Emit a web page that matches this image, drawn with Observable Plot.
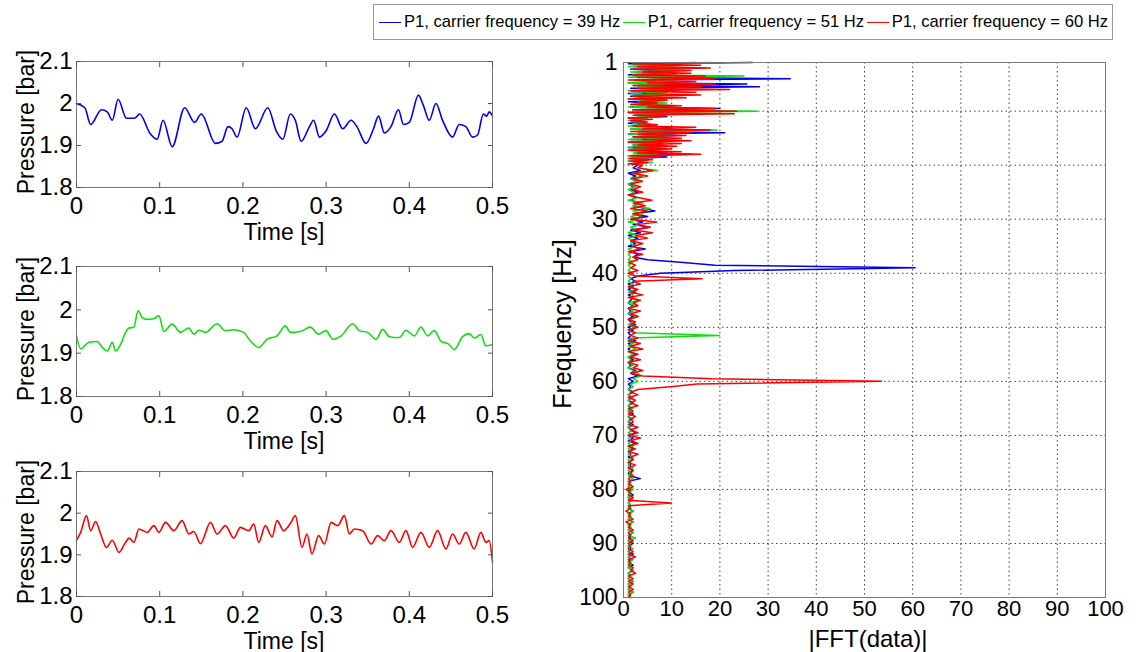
<!DOCTYPE html>
<html>
<head>
<meta charset="utf-8">
<script src="https://cdn.jsdelivr.net/npm/d3@7"></script>
<script src="https://cdn.jsdelivr.net/npm/@observablehq/plot@0.6"></script>
<style>
  html, body { margin: 0; padding: 0; background: #fff; }
  #root { position: relative; width: 1140px; height: 652px; overflow: hidden; font-family: "Liberation Sans", Arial, sans-serif; color: #000; }
  .abs { position: absolute; }
  .lbl { position: absolute; white-space: nowrap; line-height: 1; font-size: 23px; transform: translate(-50%, -50%); }
  .lbl.rot { transform: translate(-50%, -50%) rotate(-90deg); }
  .lbl.big { font-size: 25px; }
  .lbl.mid { font-size: 24px; }
  #legend { position: absolute; left: 373px; top: 4px; width: 740px; height: 36px; border: 1px solid #999; background: #fff;
            display: flex; align-items: center; justify-content: space-between; padding: 0 4px 0 5px; box-sizing: border-box; font-size: 16.6px; }
  .item { display: flex; align-items: center; white-space: nowrap; }
  .swatch { display: inline-block; width: 22px; height: 0; margin-right: 3px; }
</style>
</head>
<body>
<div id="root"></div>
<script>
// ---------------- data ----------------
const seriesNames = ["P1, carrier frequency = 39 Hz", "P1, carrier frequency = 51 Hz", "P1, carrier frequency = 60 Hz"];
const seriesColors = ["#0000ee", "#11dd11", "#ff0000"];

// time-domain traces (time [s], pressure [bar])
const time39 = [0, .01, .017, .03, .037, .043, .05, .06, .07, .076, .088, .097, .104, .115, .13, .142, .15, .167, .175, .182, .187, .193, .204, .215, .23, .24, .248, .257, .263, .27, .28, .285, .292, .3, .31, .32, .33, .337, .348, .357, .363, .37, .378, .387, .393, .4, .411, .417, .424, .432, .44, .452, .46, .468, .476, .482, .489, .493, .496, .5];
const pres39 = [2.0, 1.99, 1.95, 1.985, 1.98, 1.96, 2.01, 1.965, 1.965, 1.975, 1.93, 1.915, 1.96, 1.897, 1.99, 1.955, 1.975, 1.905, 1.91, 1.945, 1.94, 1.92, 1.99, 1.94, 1.99, 1.935, 1.915, 1.975, 1.96, 1.91, 1.945, 1.96, 1.92, 1.935, 1.975, 1.94, 1.96, 1.945, 1.905, 1.94, 1.97, 1.93, 1.945, 1.985, 1.95, 1.955, 2.02, 1.995, 1.96, 2.0, 1.96, 1.92, 1.95, 1.945, 1.92, 1.925, 1.975, 1.97, 1.98, 1.97];

const time51 = [0, .005, .015, .025, .031, .037, .043, .047, .053, .059, .063, .069, .074, .079, .085, .093, .099, .105, .115, .125, .135, .141, .147, .155, .169, .179, .189, .201, .209, .219, .229, .241, .251, .257, .269, .281, .291, .300, .308, .318, .332, .340, .350, .360, .368, .376, .388, .396, .406, .414, .422, .430, .438, .448, .454, .464, .472, .478, .486, .492, .5];
const pres51 = [1.94, 1.91, 1.925, 1.927, 1.913, 1.905, 1.925, 1.905, 1.92, 1.948, 1.958, 1.96, 1.998, 1.982, 1.978, 1.98, 1.986, 1.95, 1.967, 1.948, 1.958, 1.944, 1.953, 1.948, 1.968, 1.952, 1.954, 1.948, 1.928, 1.913, 1.932, 1.94, 1.963, 1.948, 1.95, 1.96, 1.944, 1.952, 1.932, 1.94, 1.968, 1.952, 1.948, 1.932, 1.955, 1.938, 1.936, 1.953, 1.94, 1.96, 1.94, 1.952, 1.928, 1.92, 1.908, 1.938, 1.945, 1.935, 1.943, 1.917, 1.92];

const time60 = [0, .005, .012, .017, .023, .029, .036, .043, .051, .059, .063, .069, .075, .085, .093, .099, .107, .117, .127, .135, .141, .149, .161, .169, .179, .189, .197, .207, .213, .219, .227, .235, .241, .249, .257, .263, .271, .277, .283, .291, .298, .306, .314, .322, .328, .334, .344, .354, .362, .370, .378, .388, .396, .404, .414, .424, .434, .444, .452, .460, .468, .478, .486, .492, .496, .5];
const pres60 = [1.935, 1.954, 1.994, 1.958, 1.98, 1.95, 1.918, 1.935, 1.906, 1.93, 1.94, 1.93, 1.962, 1.954, 1.97, 1.954, 1.978, 1.958, 1.982, 1.95, 1.956, 1.927, 1.978, 1.95, 1.97, 1.94, 1.966, 1.958, 1.974, 1.93, 1.97, 1.943, 1.982, 1.958, 1.975, 1.994, 1.918, 1.95, 1.902, 1.946, 1.926, 1.978, 1.97, 1.994, 1.95, 1.962, 1.958, 1.926, 1.946, 1.934, 1.958, 1.93, 1.958, 1.918, 1.954, 1.918, 1.958, 1.914, 1.95, 1.926, 1.954, 1.914, 1.954, 1.93, 1.934, 1.882];

// spectrum |FFT(data)|, 1–20 Hz: local maxima at 1, 1.5, ..., 20 Hz and minima at 1.25, 1.75, ..., 19.75 Hz
const fftPeaks39 = [26.7, 12, 10, 9, 11, 13, 34.6, 9, 25.6, 28.2, 11, 9, 7, 6, 9, 6, 10, 20, 12, 14, 9, 5, 4, 6, 10, 13, 21, 11, 9, 10, 8, 9, 7, 8, 14, 9, 5, 4, 3];
const fftDips39  = [1, 2, 1.5, 3, 1, 2, 2.5, 1, 3, 1.5, 2, 1, 1.5, 2, 1, 3, 1.5, 2, 1, 2.5, 1, 1.5, 1, 2, 1.5, 3, 1, 2, 1.5, 1, 2, 1, 1.5, 2.5, 1, 1.5, 1, 2];
const fftPeaks51 = [18, 12, 17, 13, 10, 25, 18, 11, 10, 8, 12, 9, 10, 8, 7, 9, 11, 14, 27.7, 12, 7, 5, 4, 5, 8, 19.4, 12, 10, 9, 8, 7, 8, 6, 5, 7, 4, 5, 6, 4];
const fftDips51  = [2, 1, 3, 1.5, 2, 1, 2.5, 1, 2, 3, 1, 1.5, 2, 1, 3, 1.5, 1, 2, 1, 2.5, 1.5, 1, 2, 1, 1.5, 3, 1, 2, 1, 1.5, 2, 1, 1, 2, 1, 1.5, 1, 2];
const fftPeaks60 = [15, 16, 18, 14, 14, 17, 19, 15, 19, 16, 22, 15, 16, 13, 9, 7, 12, 19, 23.5, 23, 8, 6, 5, 7, 15, 18, 14, 13, 12, 14, 12, 11, 10, 12, 16, 8, 6, 5, 4];
const fftDips60  = [2, 3, 1.5, 4, 2, 3, 1, 5, 2, 3, 1.5, 4, 2, 1, 3, 1.5, 5, 2, 1, 2, 1, 1.5, 3, 2, 4, 1.5, 3, 2, 4, 1, 3, 2, 1, 3, 1.5, 1, 1.5, 1];

// spectrum 20.5–100 Hz, every 0.5 Hz (rows of 5 Hz)
const fftHigh39 = [
  2, 3.5, 1, 2.5, 1.5, 3, 1, 2, 1.5, 3,
  1, 2.5, 1.5, 3.5, 2, 4.5, 6.5, 2, 5, 1.5,
  4, 2, 5.5, 1.5, 3.5, 1, 3, 1.5, 2.5, 1,
  4.5, 1.5, 3, 2, 5, 12.4, 19, 60.5, 23, 7.7,
  3, 1.5, 2.5, 1, 2, 1, 2.5, 1, 2, 1.5,
  1, 2, 1, 1.5, 1, 2, 1, 1.5, 2.5, 1,
  2, 1, 1.5, 1, 2.5, 1, 2, 1, 1.5, 2.5,
  1, 2, 1, 1.5, 1, 2.5, 1.5, 3, 1, 2,
  1, 1.5, 1, 2, 1, 1.5, 1, 2, 1, 1.5,
  1, 2, 1, 1.5, 1, 2, 1, 1.5, 2.5, 1,
  2, 1, 2.5, 1, 2, 1, 1.5, 1, 2, 1,
  1.5, 1, 2, 1, 1.5, 3.5, 1, 1.5, 1, 1.5,
  1, 2, 1, 1.5, 1, 1.5, 1, 2, 1, 1.5,
  1, 2, 1, 1.5, 1, 2, 1, 1.5, 1, 2,
  1, 1.5, 1, 2, 1, 1.5, 1, 2, 1, 2,
  1, 1.5, 1, 2, 1, 1.5, 1, 2, 1, 1.5];
const fftHigh51 = [
  3, 7, 2, 4, 1.5, 3, 1, 2.5, 1, 2,
  1.5, 3, 1, 4, 2, 5.5, 2, 4, 1.5, 3,
  1, 3.5, 1.5, 2.5, 1, 3, 1, 2, 1.5, 2.5,
  1, 2, 1, 1.5, 1, 2, 1, 1.5, 1, 2,
  1, 1.5, 1, 2, 1, 2.5, 1, 2, 1.5, 3,
  1, 2.5, 1, 2, 1, 3, 1.5, 2, 1, 2.5,
  1, 2, 19.9, 1.5, 1, 2, 1, 2.5, 1, 2,
  1, 1.5, 1, 2, 1, 2, 3, 3.5, 2, 3,
  1.5, 2, 1, 1.5, 1, 2, 1, 1.5, 1, 2,
  1, 1.5, 1, 2, 1, 1.5, 1, 2, 1, 2.5,
  1, 1.5, 1, 2, 1, 1.5, 1, 2, 1, 1.5,
  1, 2, 1, 1.5, 1, 2, 1, 1.5, 1, 2,
  1, 1.5, 1, 2, 1, 1.5, 1, 2, 1, 1.5,
  1, 2, 1, 1.5, 1, 2, 1, 2.5, 1, 1.5,
  1, 2, 1, 1.5, 1, 2, 1, 1.5, 1, 2,
  1, 1.5, 1, 2, 1, 1.5, 1, 2, 1, 1.5];
const fftHigh60 = [
  3, 6, 2, 5, 2, 4, 1.5, 3.5, 2, 4,
  1, 3, 5.9, 2, 4.5, 1.5, 5, 2, 4, 1.5,
  6.9, 3, 5.5, 2, 6, 2.5, 5, 1.5, 4, 2,
  3.5, 1, 4, 2, 3, 1, 2.5, 1.5, 3, 1,
  2.5, 16.3, 2, 3.5, 1, 3, 1.5, 4, 1, 3.5,
  2, 3, 1, 3.5, 1.5, 3, 1, 2.5, 1.5, 3,
  1, 2.5, 1.5, 3, 1, 3.5, 1.5, 4, 1, 3,
  1.5, 3.5, 1, 3, 2, 4, 1.5, 4, 18.4, 53.5,
  15.3, 9.7, 3, 1.5, 3, 1, 2.5, 1.5, 3, 1,
  2, 1, 2.5, 1.5, 2, 1, 3, 1.5, 3, 1,
  3.5, 1.5, 3, 1, 2.5, 1, 3, 1.5, 2, 1,
  2.5, 1, 2, 1.5, 2, 1, 1.5, 1, 2, 0.5,
  1.5, 1, 2, 1, 9.9, 1, 1.5, 0.5, 1.5, 1,
  2, 0.5, 1.5, 1, 2, 1, 1.5, 1, 2, 1,
  1.5, 1, 2, 1, 2.5, 1, 1.5, 1, 2, 1.5,
  2.5, 1, 2, 1, 2, 1, 2, 1, 1.5, 1];

const freqLow = d3.range(1, 20.001, 0.25);     // 77 bins
const freqHigh = d3.range(20.5, 100.001, 0.5); // 160 bins

// tick labels
const timeTicks = [0, 0.1, 0.2, 0.3, 0.4, 0.5];
const timeTickLabels = ["0", "0.1", "0.2", "0.3", "0.4", "0.5"];
const presTicks = [1.8, 1.9, 2.0, 2.1];
const presTickLabels = ["1.8", "1.9", "2", "2.1"];
const magTicks = [0, 10, 20, 30, 40, 50, 60, 70, 80, 90, 100];
const freqTicks = [1, 10, 20, 30, 40, 50, 60, 70, 80, 90, 100];

// ---------------- build ----------------
const FONT = '"Liberation Sans", Arial, sans-serif';
const root = document.getElementById("root");

function pairs(xs, ys, kx, ky) {
  const n = Math.min(xs.length, ys.length);
  return d3.range(n).map(i => ({[kx]: xs[i], [ky]: ys[i]}));
}
function interleave(peaks, dips) {
  const out = [];
  peaks.forEach((p, i) => { out.push(p); if (i < dips.length) out.push(dips[i]); });
  return out;
}
function labelFrom(ticks, labels) { return d => { const i = ticks.findIndex(t => Math.abs(t - d) < 1e-9); return i >= 0 ? labels[i] : ""; }; }

function timePanel(times, pres, color, frameTop, frameBottom) {
  const mt = 12, mb = 60, ml = 76, mr = 28, W = 520;
  const H = mt + (frameBottom - frameTop) + mb;
  const data = pairs(times, pres, "t", "p");
  const svg = Plot.plot({
    width: W, height: H, marginTop: mt, marginBottom: mb, marginLeft: ml, marginRight: mr,
    style: {fontFamily: FONT, fontSize: "24px", color: "#000", background: "transparent", overflow: "visible"},
    x: {domain: [0, 0.5]},
    y: {domain: [1.8, 2.1]},
    marks: [
      Plot.line(data, {x: "t", y: "p", stroke: color, strokeWidth: 1.6, curve: "monotone-x"}),
      Plot.frame({stroke: "#777", strokeWidth: 1}),
      Plot.axisX(timeTicks, {anchor: "bottom", tickSize: 0, tickPadding: 9, tickFormat: labelFrom(timeTicks, timeTickLabels), label: null, fontSize: 24}),
      Plot.axisY(presTicks, {anchor: "left", tickSize: 0, tickPadding: 4, tickFormat: labelFrom(presTicks, presTickLabels), label: null, fontSize: 24}),
      Plot.axisX(timeTicks, {anchor: "bottom", tickSize: -5, tickFormat: () => "", label: null, stroke: "#555"}),
      Plot.axisX(timeTicks, {anchor: "top", tickSize: -5, tickFormat: () => "", label: null, stroke: "#555"}),
      Plot.axisY(presTicks, {anchor: "left", tickSize: -5, tickFormat: () => "", label: null, stroke: "#555"}),
      Plot.axisY(presTicks, {anchor: "right", tickSize: -5, tickFormat: () => "", label: null, stroke: "#555"})
    ]
  });
  svg.classList.add("abs");
  svg.style.left = "0px";
  svg.style.top = (frameTop - mt) + "px";
  root.appendChild(svg);

  const yl = document.createElement("div");
  yl.className = "lbl rot"; yl.textContent = "Pressure [bar]";
  yl.style.left = "26px"; yl.style.top = ((frameTop + frameBottom) / 2 - 2) + "px";
  root.appendChild(yl);
  const xl = document.createElement("div");
  xl.className = "lbl"; xl.textContent = "Time [s]";
  xl.style.left = ((ml + (W - mr)) / 2) + "px"; xl.style.top = (frameBottom + 45) + "px";
  root.appendChild(xl);
}

timePanel(time39, pres39, seriesColors[0], 61, 187);
timePanel(time51, pres51, seriesColors[1], 266, 396);
timePanel(time60, pres60, seriesColors[2], 471, 596);

// spectrum panel
const freqAll = freqLow.concat(freqHigh);
const spectra = [
  interleave(fftPeaks39, fftDips39).concat(fftHigh39),
  interleave(fftPeaks51, fftDips51).concat(fftHigh51),
  interleave(fftPeaks60, fftDips60).concat(fftHigh60)
];
const specData = spectra.map(vals => pairs(freqAll, vals, "f", "m"));

{
  const left = 540, top = 40, W = 600, H = 612;
  const ml = 623 - left, mr = left + W - 1105, mt = 62 - top, mb = top + H - 597;
  const dotted = {stroke: "#000", strokeOpacity: 0.75, strokeDasharray: "1.5,3", strokeWidth: 1};
  const svg = Plot.plot({
    width: W, height: H, marginTop: mt, marginBottom: mb, marginLeft: ml, marginRight: mr,
    style: {fontFamily: FONT, fontSize: "22px", color: "#000", background: "transparent", overflow: "visible"},
    x: {domain: [0, 100]},
    y: {domain: [1, 100], reverse: true},
    marks: [
      Plot.gridX(magTicks, dotted),
      Plot.gridY(freqTicks, dotted),
      ...specData.map((d, i) => Plot.line(d, {x: "m", y: "f", stroke: seriesColors[i], strokeWidth: 1.5})),
      Plot.frame({stroke: "#777", strokeWidth: 1}),
      Plot.axisX(magTicks, {anchor: "bottom", tickSize: 0, tickPadding: 3, tickFormat: d => String(d), label: null, fontSize: 22}),
      Plot.axisY(freqTicks, {anchor: "left", tickSize: 0, tickPadding: 6, tickFormat: d => String(d), label: null, fontSize: 23})
    ]
  });
  svg.classList.add("abs");
  svg.style.left = left + "px";
  svg.style.top = top + "px";
  root.appendChild(svg);

  const yl = document.createElement("div");
  yl.className = "lbl rot big"; yl.textContent = "Frequency [Hz]";
  yl.style.left = "562px"; yl.style.top = "324px";
  root.appendChild(yl);
  const xl = document.createElement("div");
  xl.className = "lbl mid"; xl.textContent = "|FFT(data)|";
  xl.style.left = "868px"; xl.style.top = "639px";
  root.appendChild(xl);
}

// legend
{
  const lg = document.createElement("div");
  lg.id = "legend";
  seriesNames.forEach((name, i) => {
    const it = document.createElement("div");
    it.className = "item";
    const sw = document.createElement("span");
    sw.className = "swatch";
    sw.style.borderTop = "1.5px solid " + seriesColors[i];
    const tx = document.createElement("span");
    tx.textContent = name;
    it.appendChild(sw); it.appendChild(tx);
    lg.appendChild(it);
  });
  root.appendChild(lg);
}
</script>
</body>
</html>
